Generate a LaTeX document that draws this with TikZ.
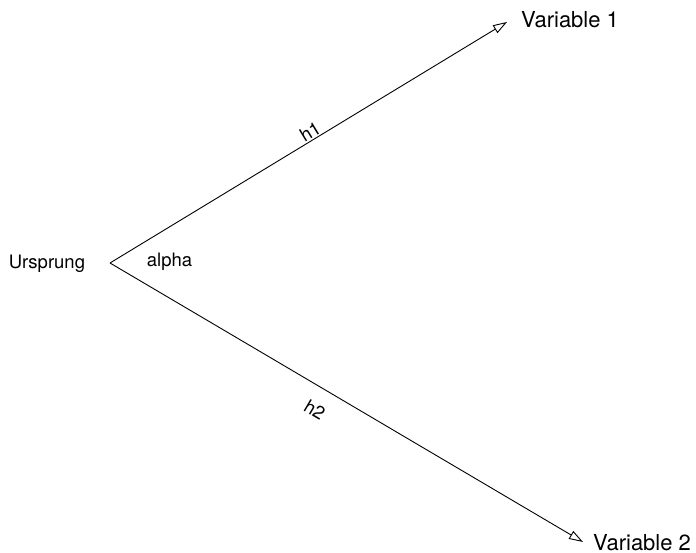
\documentclass[tikz,border=0pt]{standalone}
\usepackage{fontspec}
\setmainfont{TeX Gyre Heros}
\usetikzlibrary{arrows.meta,positioning}
\tikzset{
  vec/.style={-{Triangle[open,length=14pt,width=9pt]},line width=0.9pt},
  biglabel/.style={font=\fontsize{22}{26}\selectfont,inner sep=0pt},
  smalllabel/.style={font=\fontsize{18.5}{22}\selectfont,inner sep=0pt}
}
\begin{document}
\begin{tikzpicture}[x=1pt,y=1pt]
  \useasboundingbox (0,0) rectangle (696,553);
  \coordinate (origin) at (110,290);
  \coordinate (tip1) at (507,531);
  \coordinate (tip2) at (583,11);
  \node[smalllabel] (urs) at (47,289) {Ursprung};
  \node[smalllabel] (alpha) at (169.5,291) {alpha};
  \node[biglabel,anchor=west] (var1) at (521,533) {Variable 1};
  \node[biglabel,anchor=west] (var2) at (593,10.5) {Variable 2};
  \draw[vec] (origin) -- node[pos=0.515,sloped,above,smalllabel,yshift=1pt] (h1) {h1} (tip1);
  \draw[vec] (origin) -- node[pos=0.457,sloped,below,smalllabel,yshift=-15pt] (h2) {h2} (tip2);
\end{tikzpicture}
\end{document}
